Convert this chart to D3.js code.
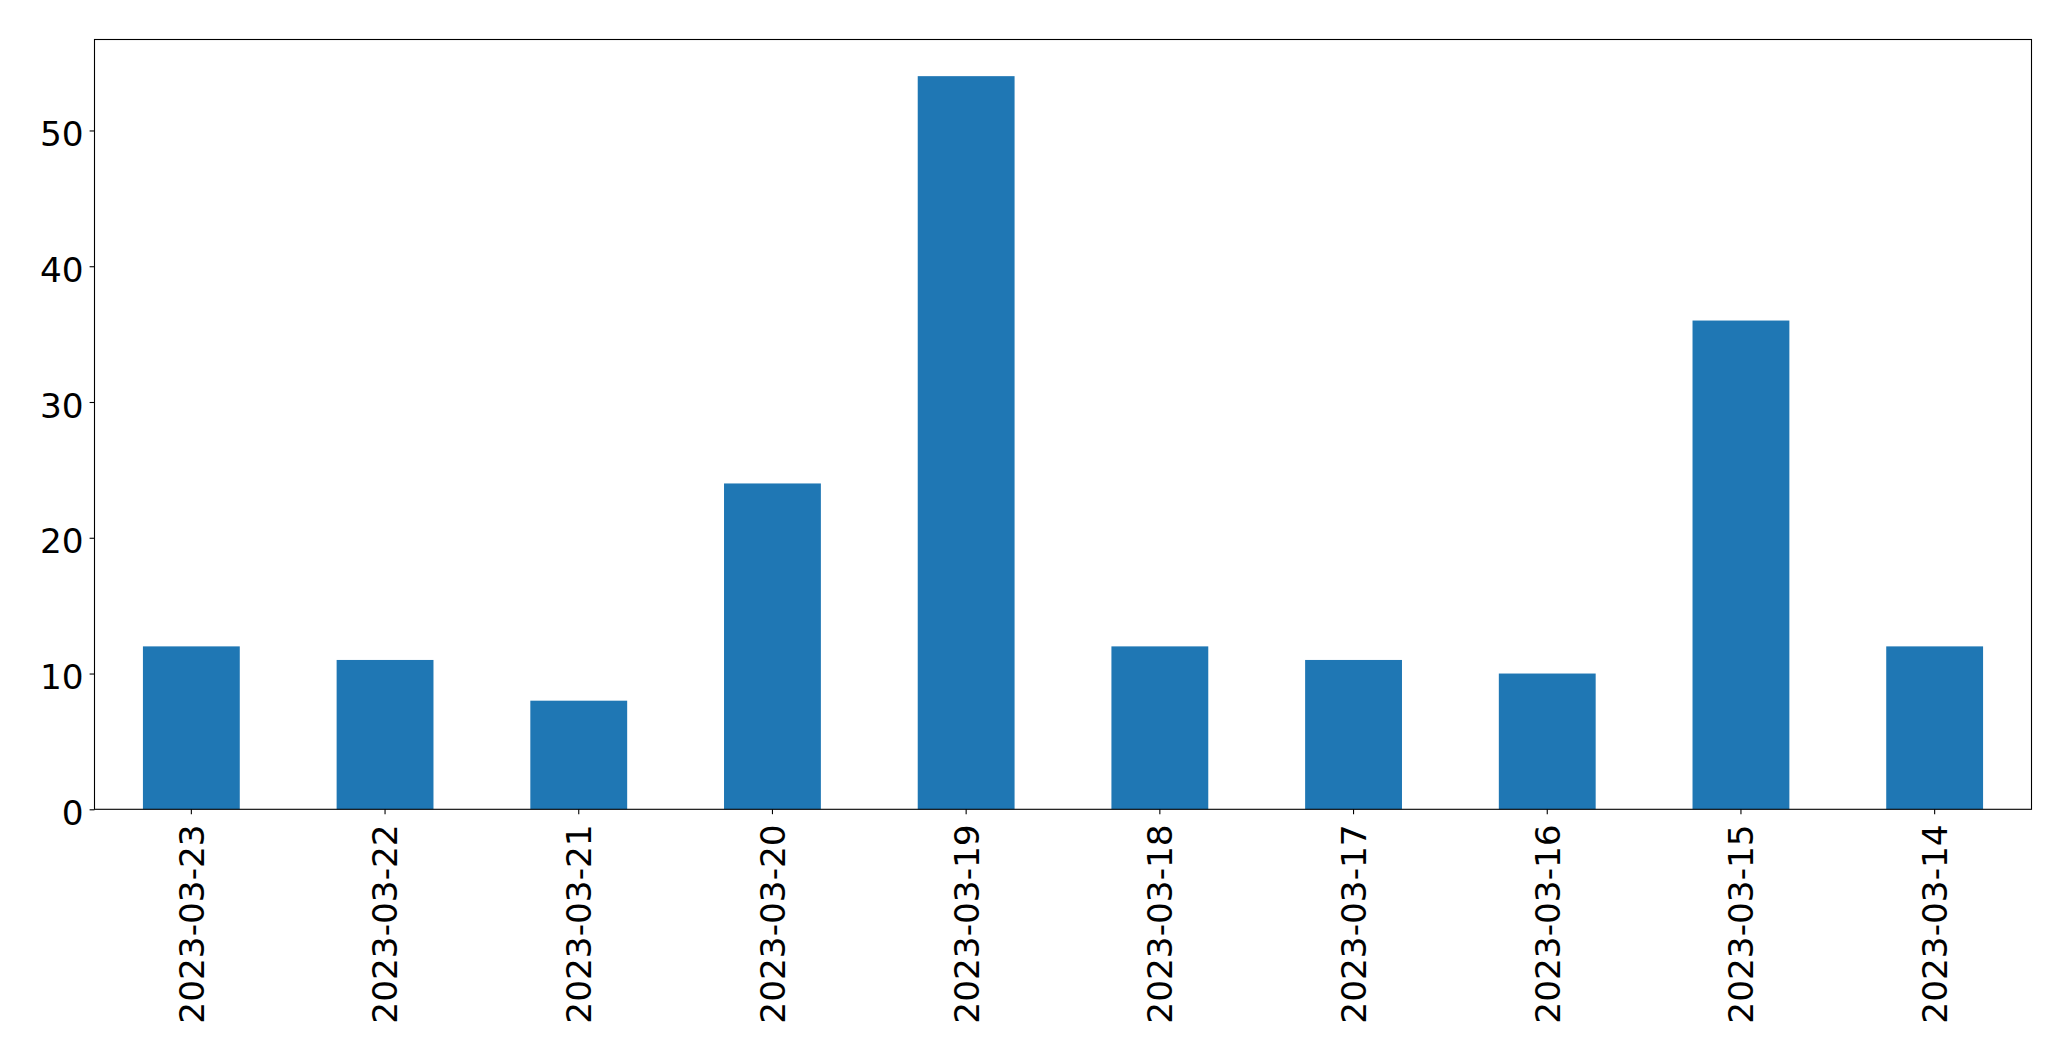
<!DOCTYPE html>
<html><head><meta charset="utf-8">
<script src="https://cdn.jsdelivr.net/npm/d3@7"></script>
<style>body{margin:0;background:#fff}svg{display:block}text{font-family:"DejaVu Sans",sans-serif}</style>
</head><body>
<script>
const categories = ["2023-03-23","2023-03-22","2023-03-21","2023-03-20","2023-03-19","2023-03-18","2023-03-17","2023-03-16","2023-03-15","2023-03-14"];
const values = [12, 11, 8, 24, 54, 12, 11, 10, 36, 12];
const yTicks = [0, 10, 20, 30, 40, 50];

const W = 2071, H = 1061;
const m = {left: 94.5, right: 2071 - 2031.5, top: 39.5, bottom: 1061 - 809.3};
const svg = d3.select("body").append("svg").attr("width", W).attr("height", H);
const iw = W - m.left - m.right, ih = H - m.top - m.bottom;
const g = svg.append("g").attr("transform", `translate(${m.left},${m.top})`);

const x = d3.scaleBand().domain(categories).range([0, iw]).paddingInner(0.5).paddingOuter(0.25);
const y = d3.scaleLinear().domain([0, d3.max(values) * 1.05]).range([ih, 0]);

g.selectAll("rect.bar").data(values).join("rect").attr("class", "bar")
  .attr("x", (d, i) => x(categories[i]))
  .attr("width", x.bandwidth())
  .attr("y", d => y(d))
  .attr("height", d => y(0) - y(d))
  .attr("fill", "#1f77b4");

const fs = 34.3;
const yAxis = g.append("g").call(d3.axisLeft(y).tickValues(yTicks).tickSize(4.9).tickPadding(6).tickFormat(d3.format("d")));
yAxis.select(".domain").remove();
yAxis.selectAll("line").attr("stroke", "#000").attr("stroke-width", 1.1);
yAxis.selectAll("text").attr("font-size", fs).attr("fill", "#000").attr("dy", "0.44em");

const xAxis = g.append("g").attr("transform", `translate(0,${ih})`).call(d3.axisBottom(x).tickSize(4.9).tickPadding(0));
xAxis.select(".domain").remove();
xAxis.selectAll("line").attr("stroke", "#000").attr("stroke-width", 1.1);
xAxis.selectAll("text").attr("font-size", fs).attr("fill", "#000")
  .attr("text-anchor", "end")
  .attr("transform", "translate(0,15) rotate(-90)")
  .attr("x", 0).attr("y", 0).attr("dy", "0.36em");

g.append("rect").attr("x", 0).attr("y", 0).attr("width", iw).attr("height", ih)
  .attr("fill", "none").attr("stroke", "#000").attr("stroke-width", 1.1);
</script>
</body></html>
